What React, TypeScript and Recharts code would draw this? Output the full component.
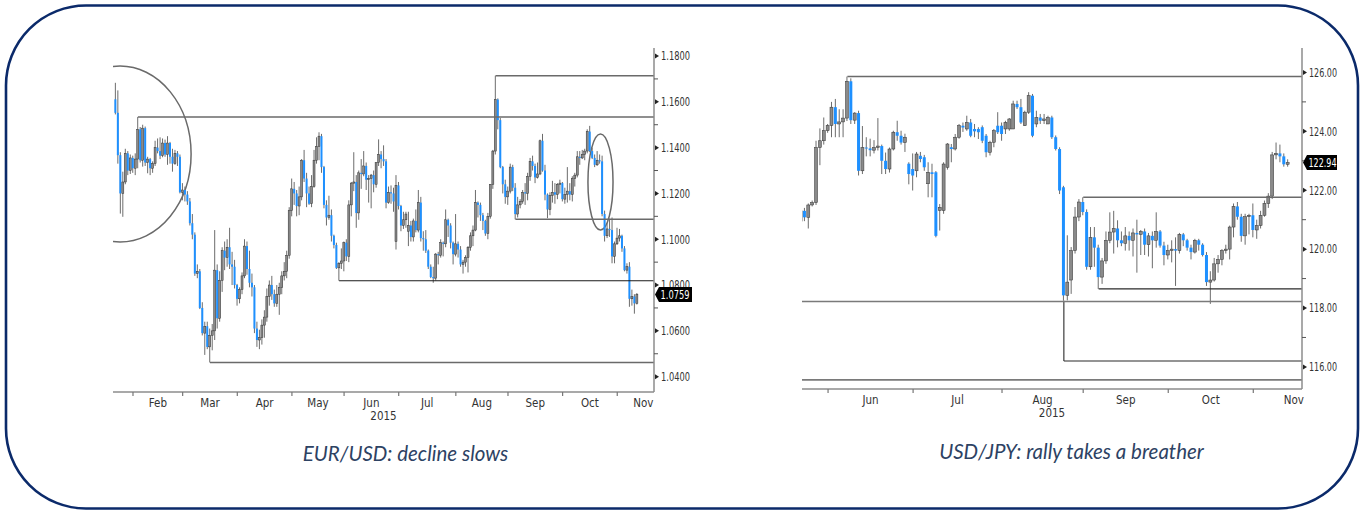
import React from 'react';
import { ComposedChart, Bar, XAxis, YAxis, ReferenceLine, ReferenceArea } from 'recharts';

type Ohlc = [number, number, number, number]; // open, high, low, close

// EUR/USD daily bars, grouped by the month band they sit in on the x axis
const eurJan: Ohlc[] = [
  [1.1611, 1.1683, 1.1545, 1.1552], [1.1552, 1.1650, 1.1330, 1.1367], [1.1367, 1.1380, 1.1112, 1.1200],
  [1.1200, 1.1295, 1.1098, 1.1250], [1.1250, 1.1395, 1.1240, 1.1375], [1.1375, 1.1385, 1.1280, 1.1300],
  [1.1300, 1.1370, 1.1285, 1.1355],
];
const eurFeb: Ohlc[] = [
  [1.1355, 1.1365, 1.1290, 1.1310], [1.1310, 1.1375, 1.1280, 1.1350], [1.1350, 1.1534, 1.1310, 1.1480],
  [1.1480, 1.1490, 1.1335, 1.1345], [1.1345, 1.1500, 1.1317, 1.1485], [1.1485, 1.1492, 1.1320, 1.1335],
  [1.1335, 1.1360, 1.1288, 1.1350], [1.1350, 1.1355, 1.1280, 1.1310], [1.1310, 1.1340, 1.1290, 1.1330],
  [1.1330, 1.1430, 1.1320, 1.1400], [1.1400, 1.1440, 1.1375, 1.1385], [1.1385, 1.1445, 1.1350, 1.1365],
  [1.1365, 1.1440, 1.1358, 1.1420], [1.1420, 1.1435, 1.1360, 1.1370], [1.1370, 1.1450, 1.1325, 1.1420],
  [1.1420, 1.1425, 1.1330, 1.1360], [1.1360, 1.1395, 1.1295, 1.1330], [1.1330, 1.1390, 1.1325, 1.1375],
  [1.1375, 1.1385, 1.1320, 1.1360], [1.1360, 1.1370, 1.1200, 1.1205],
];
const eurMar: Ohlc[] = [
  [1.1205, 1.1245, 1.1170, 1.1215], [1.1215, 1.1230, 1.1165, 1.1195], [1.1195, 1.1210, 1.1150, 1.1165],
  [1.1165, 1.1180, 1.1060, 1.1070], [1.1070, 1.1110, 1.1000, 1.1020], [1.1020, 1.1030, 1.0840, 1.0850],
  [1.0850, 1.0890, 1.0830, 1.0860], [1.0860, 1.0870, 1.0695, 1.0700], [1.0700, 1.0725, 1.0580, 1.0590],
  [1.0590, 1.0640, 1.0495, 1.0620], [1.0620, 1.0640, 1.0520, 1.0530], [1.0530, 1.0610, 1.0462, 1.0580],
  [1.0580, 1.0630, 1.0515, 1.0600], [1.0600, 1.1040, 1.0560, 1.0865], [1.0865, 1.0890, 1.0610, 1.0655],
  [1.0655, 1.0860, 1.0640, 1.0820], [1.0820, 1.0965, 1.0770, 1.0950], [1.0950, 1.0990, 1.0865, 1.0920],
  [1.0920, 1.1000, 1.0880, 1.0965], [1.0965, 1.1050, 1.0870, 1.0890], [1.0890, 1.0945, 1.0800, 1.0880],
  [1.0880, 1.0910, 1.0785, 1.0800],
];
const eurApr: Ohlc[] = [
  [1.0800, 1.0805, 1.0710, 1.0740], [1.0740, 1.0790, 1.0720, 1.0780], [1.0780, 1.0855, 1.0760, 1.0840],
  [1.0840, 1.1000, 1.0830, 1.0970], [1.0970, 1.0990, 1.0845, 1.0870], [1.0870, 1.0950, 1.0790, 1.0810],
  [1.0810, 1.0850, 1.0750, 1.0790], [1.0790, 1.0800, 1.0590, 1.0610], [1.0610, 1.0640, 1.0530, 1.0560],
  [1.0560, 1.0605, 1.0520, 1.0570], [1.0570, 1.0650, 1.0540, 1.0625], [1.0625, 1.0690, 1.0570, 1.0660],
  [1.0660, 1.0785, 1.0640, 1.0750], [1.0750, 1.0820, 1.0710, 1.0800], [1.0800, 1.0840, 1.0735, 1.0760],
  [1.0760, 1.0780, 1.0705, 1.0720], [1.0720, 1.0800, 1.0705, 1.0760], [1.0760, 1.0810, 1.0670, 1.0790],
  [1.0790, 1.0860, 1.0760, 1.0840], [1.0840, 1.0900, 1.0820, 1.0860], [1.0860, 1.0950, 1.0830, 1.0930],
  [1.0930, 1.1140, 1.0915, 1.1125],
];
const eurMay: Ohlc[] = [
  [1.1125, 1.1265, 1.1100, 1.1220], [1.1220, 1.1250, 1.1150, 1.1200], [1.1200, 1.1215, 1.1100, 1.1145],
  [1.1145, 1.1230, 1.1105, 1.1185], [1.1185, 1.1350, 1.1170, 1.1345], [1.1345, 1.1390, 1.1250, 1.1265],
  [1.1265, 1.1290, 1.1140, 1.1200], [1.1200, 1.1230, 1.1150, 1.1155], [1.1155, 1.1280, 1.1140, 1.1230],
  [1.1230, 1.1390, 1.1225, 1.1345], [1.1345, 1.1445, 1.1330, 1.1405], [1.1405, 1.1467, 1.1345, 1.1450],
  [1.1450, 1.1460, 1.1290, 1.1315], [1.1315, 1.1320, 1.1135, 1.1150], [1.1150, 1.1170, 1.1060, 1.1095],
  [1.1095, 1.1190, 1.1085, 1.1105], [1.1105, 1.1130, 1.0990, 1.1015], [1.1015, 1.1020, 1.0960, 1.0975],
  [1.0975, 1.0985, 1.0870, 1.0875], [1.0875, 1.0900, 1.0819, 1.0895], [1.0895, 1.0960, 1.0870, 1.0905],
];
const eurJun: Ohlc[] = [
  [1.0905, 1.0990, 1.0860, 1.0985], [1.0985, 1.1000, 1.0905, 1.0925], [1.0925, 1.1170, 1.0900, 1.1150],
  [1.1150, 1.1250, 1.1100, 1.1245], [1.1245, 1.1380, 1.1210, 1.1250], [1.1250, 1.1280, 1.1050, 1.1115],
  [1.1115, 1.1300, 1.1085, 1.1290], [1.1290, 1.1350, 1.1220, 1.1285], [1.1285, 1.1385, 1.1275, 1.1320],
  [1.1320, 1.1335, 1.1215, 1.1260], [1.1260, 1.1280, 1.1160, 1.1265], [1.1265, 1.1285, 1.1135, 1.1280],
  [1.1280, 1.1300, 1.1205, 1.1240], [1.1240, 1.1335, 1.1225, 1.1335], [1.1335, 1.1436, 1.1320, 1.1370],
  [1.1370, 1.1385, 1.1310, 1.1350], [1.1350, 1.1410, 1.1320, 1.1340], [1.1340, 1.1350, 1.1135, 1.1160],
  [1.1160, 1.1230, 1.1155, 1.1205], [1.1205, 1.1235, 1.1155, 1.1200], [1.1200, 1.1225, 1.1120, 1.1165],
  [1.0990, 1.1280, 1.0955, 1.1235],
];
const eurJul: Ohlc[] = [
  [1.1235, 1.1250, 1.1130, 1.1145], [1.1145, 1.1150, 1.1035, 1.1060], [1.1060, 1.1120, 1.1045, 1.1085],
  [1.1085, 1.1120, 1.1050, 1.1110], [1.1035, 1.1120, 1.0970, 1.1060], [1.1060, 1.1080, 1.0990, 1.1010],
  [1.1010, 1.1090, 1.0990, 1.1080], [1.1080, 1.1130, 1.1030, 1.1040], [1.1040, 1.1215, 1.1030, 1.1160],
  [1.1160, 1.1185, 1.0990, 1.1005], [1.1005, 1.1035, 1.0950, 1.1000], [1.1000, 1.1040, 1.0940, 1.0950],
  [1.0950, 1.0955, 1.0870, 1.0880], [1.0880, 1.0890, 1.0830, 1.0835], [1.0835, 1.0880, 1.0810, 1.0830],
  [1.0830, 1.0940, 1.0820, 1.0935], [1.0935, 1.0945, 1.0890, 1.0930], [1.0930, 1.1000, 1.0920, 1.0985],
  [1.0985, 1.0990, 1.0925, 1.0980], [1.0980, 1.1130, 1.0965, 1.1085], [1.1085, 1.1090, 1.1010, 1.1060],
  [1.1060, 1.1070, 1.0960, 1.0985], [1.0985, 1.0990, 1.0890, 1.0935],
];
const eurAug: Ohlc[] = [
  [1.0935, 1.1110, 1.0925, 1.0980], [1.0980, 1.0990, 1.0920, 1.0955], [1.0955, 1.0970, 1.0880, 1.0890],
  [1.0890, 1.0910, 1.0850, 1.0900], [1.0900, 1.0930, 1.0880, 1.0920], [1.0920, 1.0970, 1.0855, 1.0965],
  [1.0965, 1.1030, 1.0950, 1.1015], [1.1015, 1.1060, 1.0970, 1.1040], [1.1040, 1.1215, 1.1035, 1.1160],
  [1.1160, 1.1165, 1.1095, 1.1150], [1.1150, 1.1160, 1.1080, 1.1105], [1.1105, 1.1115, 1.1040, 1.1080],
  [1.1080, 1.1085, 1.1015, 1.1025], [1.1025, 1.1115, 1.1000, 1.1100], [1.1100, 1.1240, 1.1090, 1.1240],
  [1.1240, 1.1390, 1.1220, 1.1385], [1.1385, 1.1714, 1.1370, 1.1610], [1.1610, 1.1615, 1.1480, 1.1520],
  [1.1520, 1.1530, 1.1310, 1.1315], [1.1315, 1.1320, 1.1200, 1.1240], [1.1240, 1.1260, 1.1155, 1.1185],
];
const eurSep: Ohlc[] = [
  [1.1185, 1.1230, 1.1150, 1.1210], [1.1210, 1.1330, 1.1200, 1.1315], [1.1315, 1.1325, 1.1210, 1.1225],
  [1.1225, 1.1245, 1.1087, 1.1110], [1.1110, 1.1185, 1.1095, 1.1150], [1.1150, 1.1175, 1.1135, 1.1165],
  [1.1165, 1.1215, 1.1155, 1.1205], [1.1205, 1.1245, 1.1150, 1.1200], [1.1200, 1.1290, 1.1170, 1.1275],
  [1.1275, 1.1355, 1.1255, 1.1340], [1.1340, 1.1365, 1.1300, 1.1320], [1.1320, 1.1330, 1.1245, 1.1270],
  [1.1270, 1.1335, 1.1265, 1.1285], [1.1285, 1.1435, 1.1280, 1.1430], [1.1430, 1.1460, 1.1295, 1.1300],
  [1.1300, 1.1325, 1.1170, 1.1195], [1.1195, 1.1200, 1.1092, 1.1130], [1.1130, 1.1205, 1.1105, 1.1190],
  [1.1190, 1.1255, 1.1160, 1.1205], [1.1205, 1.1245, 1.1155, 1.1195], [1.1195, 1.1245, 1.1175, 1.1240],
  [1.1240, 1.1260, 1.1200, 1.1245],
];
const eurOct: Ohlc[] = [
  [1.1245, 1.1250, 1.1165, 1.1175], [1.1175, 1.1225, 1.1155, 1.1195], [1.1195, 1.1315, 1.1160, 1.1210],
  [1.1210, 1.1245, 1.1170, 1.1195], [1.1195, 1.1275, 1.1165, 1.1265], [1.1265, 1.1290, 1.1230, 1.1280],
  [1.1280, 1.1385, 1.1270, 1.1360], [1.1360, 1.1385, 1.1325, 1.1355], [1.1355, 1.1390, 1.1350, 1.1370],
  [1.1370, 1.1395, 1.1345, 1.1385], [1.1385, 1.1480, 1.1375, 1.1470], [1.1470, 1.1495, 1.1380, 1.1385],
  [1.1385, 1.1400, 1.1350, 1.1355], [1.1355, 1.1370, 1.1315, 1.1325], [1.1325, 1.1385, 1.1320, 1.1345],
  [1.1345, 1.1370, 1.1330, 1.1340], [1.1340, 1.1365, 1.1100, 1.1110], [1.1110, 1.1125, 1.0990, 1.1015],
  [1.1015, 1.1070, 1.1005, 1.1045], [1.1045, 1.1090, 1.1010, 1.1040], [1.1040, 1.1095, 1.0895, 1.0925],
  [1.0925, 1.0990, 1.0895, 1.0980],
];
const eurNov: Ohlc[] = [
  [1.0980, 1.1050, 1.0975, 1.1005], [1.1005, 1.1045, 1.0990, 1.1015], [1.1015, 1.1020, 1.0945, 1.0960],
  [1.0960, 1.0970, 1.0860, 1.0865], [1.0865, 1.0895, 1.0850, 1.0880], [1.0880, 1.0900, 1.0705, 1.0740],
  [1.0740, 1.0780, 1.0710, 1.0750], [1.0750, 1.0760, 1.0675, 1.0720], [1.0720, 1.0765, 1.0715, 1.0759],
];

// USD/JPY daily bars
const jpyMay: Ohlc[] = [
  [120.95, 121.53, 120.63, 121.30], [121.30, 121.40, 120.95, 121.08], [121.08, 121.55, 120.70, 121.50],
  [121.50, 121.65, 121.45, 121.58], [121.58, 123.68, 121.50, 123.45], [123.45, 124.10, 122.85, 123.68],
  [123.68, 124.47, 123.55, 124.02],
];
const jpyJun: Ohlc[] = [
  [124.02, 124.25, 123.95, 124.20], [124.20, 125.00, 123.80, 124.82], [124.82, 125.10, 123.80, 124.25],
  [124.25, 124.75, 123.80, 124.32], [124.32, 124.75, 123.80, 124.45], [124.45, 125.86, 124.35, 125.70],
  [125.70, 125.80, 124.25, 124.38], [124.38, 124.65, 124.25, 124.62], [124.62, 124.70, 122.50, 122.66],
  [122.66, 124.18, 122.55, 123.45], [123.45, 123.80, 123.15, 123.42], [123.42, 123.75, 123.15, 123.36],
  [123.36, 123.70, 123.25, 123.45], [123.45, 124.45, 123.35, 123.50], [123.50, 123.55, 122.55, 123.00],
  [123.00, 123.28, 122.55, 122.72], [122.72, 123.45, 122.60, 123.40], [123.40, 124.02, 123.35, 123.97],
  [123.97, 124.36, 123.68, 123.85], [123.85, 124.02, 123.55, 123.62], [123.62, 123.92, 123.30, 123.80],
  [122.90, 122.95, 122.20, 122.55],
];
const jpyJul: Ohlc[] = [
  [122.72, 123.25, 121.99, 122.50], [122.66, 123.30, 122.44, 123.23], [123.17, 123.30, 122.95, 123.06],
  [123.12, 123.20, 122.66, 122.78], [122.22, 122.95, 121.76, 122.61], [122.61, 122.90, 121.76, 122.55],
  [122.61, 122.65, 120.40, 120.45], [121.31, 121.53, 120.63, 121.42], [121.31, 122.95, 121.20, 122.89],
  [122.78, 123.60, 122.70, 123.57], [123.46, 123.57, 122.95, 123.40], [123.40, 123.91, 123.35, 123.80],
  [123.80, 124.25, 123.75, 124.19], [124.19, 124.30, 123.98, 124.13], [124.08, 124.53, 124.02, 124.30],
  [124.30, 124.42, 123.80, 123.85], [124.08, 124.25, 123.80, 124.00], [124.08, 124.14, 123.74, 123.97],
  [124.14, 124.20, 123.60, 123.68], [123.85, 123.91, 123.12, 123.29], [123.29, 123.68, 123.18, 123.63],
  [123.63, 124.08, 123.46, 124.02], [124.19, 124.65, 123.91, 123.97],
];
const jpyAug: Ohlc[] = [
  [124.19, 124.30, 123.68, 123.91], [124.08, 124.36, 123.91, 124.30], [124.08, 124.45, 124.02, 124.42],
  [124.08, 125.04, 124.08, 124.93], [124.93, 125.04, 124.76, 124.82], [124.82, 125.10, 124.25, 124.30],
  [124.19, 124.70, 124.19, 124.65], [124.65, 125.33, 124.59, 125.21], [125.21, 125.27, 123.80, 123.85],
  [124.25, 124.70, 124.14, 124.47], [124.47, 124.59, 124.25, 124.36], [124.36, 124.59, 124.25, 124.42],
  [124.25, 124.53, 124.25, 124.47], [124.47, 124.53, 123.74, 123.80], [123.80, 123.86, 123.35, 123.40],
  [123.40, 123.46, 121.87, 121.99], [122.10, 122.15, 118.25, 118.43], [118.43, 120.47, 118.26, 118.88],
  [118.95, 120.07, 118.48, 119.95], [119.95, 121.43, 119.85, 121.09], [121.09, 121.70, 120.95, 121.60],
];
const jpySep: Ohlc[] = [
  [121.60, 121.76, 121.15, 121.26], [121.26, 121.35, 119.30, 119.40], [119.40, 120.75, 119.30, 120.40],
  [120.40, 120.75, 119.40, 120.05], [120.05, 120.15, 118.65, 119.05], [119.05, 119.70, 118.82, 119.60],
  [119.60, 120.60, 119.50, 120.30], [120.30, 121.25, 120.20, 120.58], [120.58, 121.30, 119.85, 120.70],
  [120.70, 120.98, 120.06, 120.30], [120.30, 120.60, 120.10, 120.20], [120.20, 120.75, 119.95, 120.45],
  [120.45, 120.60, 119.95, 120.30], [120.30, 120.70, 119.75, 120.55], [120.55, 121.00, 119.20, 120.50],
  [120.50, 120.65, 119.80, 120.60], [120.60, 120.70, 119.80, 120.15], [120.15, 120.55, 119.75, 120.45],
  [120.45, 120.60, 119.35, 120.30], [120.30, 121.25, 120.05, 120.60], [120.60, 120.65, 120.05, 120.12],
  [120.12, 120.25, 119.45, 119.80],
];
const jpyOct: Ohlc[] = [
  [119.80, 120.15, 119.65, 119.95], [119.95, 120.30, 119.55, 120.00], [120.00, 120.40, 118.75, 119.95],
  [119.95, 120.55, 119.85, 120.50], [120.50, 120.55, 120.10, 120.30], [120.30, 120.35, 119.95, 120.05],
  [120.05, 120.15, 119.65, 119.90], [119.90, 120.35, 119.85, 120.30], [120.30, 120.35, 119.95, 120.15],
  [120.15, 120.20, 119.75, 119.80], [119.80, 119.90, 118.75, 118.88], [118.88, 119.25, 118.14, 118.95],
  [118.95, 119.70, 118.90, 119.50], [119.50, 119.80, 119.20, 119.65], [119.65, 120.00, 119.45, 119.95],
  [119.95, 120.15, 119.85, 120.00], [120.00, 120.80, 119.65, 120.75], [120.75, 121.55, 120.40, 121.45],
  [121.45, 121.60, 121.00, 121.10], [121.10, 121.20, 120.25, 120.45], [120.45, 121.20, 120.15, 121.10],
  [121.10, 121.20, 120.50, 121.15],
];
const jpyNov: Ohlc[] = [
  [121.15, 121.55, 120.40, 120.65], [120.65, 121.00, 120.35, 120.80], [120.80, 121.30, 120.70, 121.15],
  [121.15, 121.65, 121.10, 121.55], [121.55, 121.90, 121.40, 121.80], [121.80, 123.30, 121.70, 123.20],
  [123.20, 123.62, 123.05, 123.25], [123.25, 123.55, 122.95, 123.15], [123.15, 123.25, 122.80, 122.88],
  [122.88, 123.05, 122.80, 122.94],
];

const eurStart = '2015-01-22';
const jpyStart = '2015-05-21';
const monthNames = ['Jan', 'Feb', 'Mar', 'Apr', 'May', 'Jun', 'Jul', 'Aug', 'Sep', 'Oct', 'Nov', 'Dec'];

const eurTicks = [1.04, 1.05, 1.06, 1.07, 1.08, 1.09, 1.1, 1.11, 1.12, 1.13, 1.14, 1.15, 1.16, 1.17, 1.18];
const jpyTicks = [116, 117, 118, 119, 120, 121, 122, 123, 124, 125, 126];

// drawn levels: [first bar index, price]
const eurLevels: [number, number][] = [[9, 1.1534], [153, 1.1714], [161, 1.1087], [90, 1.0819], [38, 1.0462]];
const jpyLevels: [number, number][] = [[12, 125.86], [73, 121.76], [77, 118.65], [68, 116.2]];
const jpyFullLevels = [118.22, 115.56];

const AXIS_FONT = "'Liberation Sans Narrow', 'DejaVu Sans Condensed', 'Arial Narrow', sans-serif";
const UP_FILL = '#8a8a8a';
const UP_EDGE = '#333333';
const DOWN_FILL = '#1e90ff';
const WICK = '#6c6c6c';
const AXIS_GREY = '#8c8c8c';

const toRows = (rows: Ohlc[]) => rows.map(([o, h, l, c], i) => ({ i, o, h, l, c }));
const eurData = toRows([...eurJan, ...eurFeb, ...eurMar, ...eurApr, ...eurMay, ...eurJun, ...eurJul, ...eurAug, ...eurSep, ...eurOct, ...eurNov]);
const jpyData = toRows([...jpyMay, ...jpyJun, ...jpyJul, ...jpyAug, ...jpySep, ...jpyOct, ...jpyNov]);

function tradingDays(start: string, count: number) {
  const out: Date[] = [];
  const d = new Date(start + 'T00:00:00Z');
  while (out.length < count) {
    const wd = d.getUTCDay();
    if (wd !== 0 && wd !== 6) out.push(new Date(d.getTime()));
    d.setUTCDate(d.getUTCDate() + 1);
  }
  return out;
}

// month boundaries (tick marks) and month centres (labels), in bar-index units
function monthMarks(start: string, count: number, maxX: number) {
  const days = tradingDays(start, count + 30);
  const starts: number[] = [];
  for (let i = 1; i < days.length; i++) {
    if (days[i].getUTCMonth() !== days[i - 1].getUTCMonth()) starts.push(i);
  }
  const labels = new Map<number, string>();
  for (let k = 0; k < starts.length - 1; k++) {
    const mid = (starts[k] + starts[k + 1]) / 2;
    if (mid <= maxX) labels.set(mid, monthNames[days[starts[k]].getUTCMonth()]);
  }
  const ticks = [...starts.filter((s) => s <= maxX), ...labels.keys()].sort((a, b) => a - b);
  return { ticks, labels };
}

const EUR_X: [number, number] = [-1.05, 216.8];
const EUR_Y: [number, number] = [1.0333, 1.1835];
const JPY_X: [number, number] = [0.26, 129.6];
const JPY_Y: [number, number] = [115.25, 126.83];

const eurMarks = monthMarks(eurStart, eurData.length, EUR_X[1]);
const jpyMarks = monthMarks(jpyStart, jpyData.length, JPY_X[1]);

const makeCandle = (bodyWidth: number) => (props: any) => {
  const { x, y, width, height, payload } = props;
  if (payload == null || !isFinite(y) || !isFinite(height)) return <g />;
  const { o, h, l, c } = payload;
  const k = height / (h - l || 1);
  const yo = y + (h - o) * k;
  const yc = y + (h - c) * k;
  const cx = x + width / 2;
  const up = c >= o;
  const top = Math.min(yo, yc);
  const bh = Math.max(Math.abs(yo - yc), 1);
  return (
    <g>
      <line x1={cx} x2={cx} y1={y} y2={y + height} stroke={WICK} strokeWidth={1} />
      <rect
        x={cx - bodyWidth / 2}
        y={top}
        width={bodyWidth}
        height={bh}
        fill={up ? UP_FILL : DOWN_FILL}
        stroke={up ? UP_EDGE : 'none'}
        strokeWidth={0.5}
      />
    </g>
  );
};

const ellipseShape = (p: any) => (
  <ellipse
    cx={p.x + p.width / 2}
    cy={p.y + p.height / 2}
    rx={Math.abs(p.width) / 2}
    ry={Math.abs(p.height) / 2}
    fill="none"
    stroke="#6a6a6a"
    strokeWidth={1.5}
    clipPath={p.clipPath}
  />
);

function MonthTick(props: any) {
  const { x, y, payload, labels } = props;
  const label = labels.get(payload.value);
  if (label) {
    return (
      <text x={x} y={y + 14.5} textAnchor="middle" fontSize={11.5} fill="#333" fontFamily={AXIS_FONT}>
        {label}
      </text>
    );
  }
  return <line x1={x} x2={x} y1={y} y2={y + 4} stroke="#777" strokeWidth={1.2} />;
}

function PriceTick(props: any) {
  const { x, y, payload, last, step, digits, tagWidth, textWidth } = props;
  const v = payload.value;
  if (v === last) {
    const h = 7.5;
    return (
      <g>
        <polygon
          points={`${x + 1},${y} ${x + 5},${y - h} ${x + 5 + tagWidth},${y - h} ${x + 5 + tagWidth},${y + h} ${x + 5},${y + h}`}
          fill="#000"
        />
        <text
          x={x + 6.5}
          y={y + 4.3}
          fontSize={12}
          fill="#fff"
          fontFamily={AXIS_FONT}
          textLength={textWidth}
          lengthAdjust="spacingAndGlyphs"
        >
          {v.toFixed(digits)}
        </text>
      </g>
    );
  }
  const major = Math.round(v * step) % 2 === 0;
  if (!major) return <line x1={x} x2={x + 4} y1={y} y2={y} stroke="#555" strokeWidth={1} />;
  return (
    <g>
      <polygon points={`${x + 1},${y - 2.5} ${x + 5},${y} ${x + 1},${y + 2.5}`} fill="#222" />
      <text
        x={x + 7}
        y={y + 4.3}
        fontSize={12}
        fill="#333"
        fontFamily={AXIS_FONT}
        textLength={textWidth}
        lengthAdjust="spacingAndGlyphs"
      >
        {v.toFixed(digits)}
      </text>
    </g>
  );
}

function EurChart() {
  const last = eurData[eurData.length - 1].c;
  return (
    <ComposedChart width={760} height={440} data={eurData} margin={{ top: 48, right: 46, bottom: 18, left: 113 }}>
      <XAxis
        dataKey="i"
        type="number"
        domain={EUR_X}
        allowDataOverflow
        ticks={eurMarks.ticks}
        interval={0}
        tickSize={0}
        tickMargin={0}
        tickLine={false}
        height={30}
        axisLine={{ stroke: AXIS_GREY, strokeWidth: 1.5 }}
        tick={(p: any) => <MonthTick {...p} labels={eurMarks.labels} />}
        label={{ value: '2015', position: 'insideBottom', offset: 2, fontSize: 11.5, fill: '#333', fontFamily: AXIS_FONT }}
      />
      <YAxis
        orientation="right"
        type="number"
        domain={EUR_Y}
        allowDataOverflow
        ticks={[...eurTicks, last]}
        interval={0}
        tickSize={0}
        tickMargin={0}
        tickLine={false}
        width={60}
        axisLine={{ stroke: AXIS_GREY, strokeWidth: 1.5 }}
        tick={(p: any) => <PriceTick {...p} last={last} step={100} digits={4} tagWidth={33} textWidth={29} />}
      />
      <Bar dataKey={(d: any) => [d.l, d.h]} barSize={2} shape={makeCandle(2)} isAnimationActive={false} />
      {eurLevels.map(([from, v], k) => (
        <ReferenceLine
          key={`lv${k}`}
          segment={[{ x: from, y: v }, { x: EUR_X[1], y: v }]}
          stroke={k === 3 ? '#1a1a1a' : '#6a6a6a'}
          strokeWidth={k === 3 ? 1.1 : 1.6}
          ifOverflow="hidden"
        />
      ))}
      <ReferenceArea x1={-26.8} x2={30.4} y1={1.0988} y2={1.1756} ifOverflow="hidden" shape={ellipseShape} />
      <ReferenceArea x1={190.2} x2={200.3} y1={1.104} y2={1.1459} ifOverflow="hidden" shape={ellipseShape} />
    </ComposedChart>
  );
}

function JpyChart() {
  const last = jpyData[jpyData.length - 1].c;
  return (
    <ComposedChart width={620} height={440} data={jpyData} margin={{ top: 48, right: 3, bottom: 21, left: 62 }}>
      <XAxis
        dataKey="i"
        type="number"
        domain={JPY_X}
        allowDataOverflow
        ticks={jpyMarks.ticks}
        interval={0}
        tickSize={0}
        tickMargin={0}
        tickLine={false}
        height={30}
        axisLine={{ stroke: AXIS_GREY, strokeWidth: 1.5 }}
        tick={(p: any) => <MonthTick {...p} labels={jpyMarks.labels} />}
        label={{ value: '2015', position: 'insideBottom', offset: 2, fontSize: 11.5, fill: '#333', fontFamily: AXIS_FONT }}
      />
      <YAxis
        orientation="right"
        type="number"
        domain={JPY_Y}
        allowDataOverflow
        ticks={[...jpyTicks, last]}
        interval={0}
        tickSize={0}
        tickMargin={0}
        tickLine={false}
        width={55}
        axisLine={{ stroke: AXIS_GREY, strokeWidth: 1.5 }}
        tick={(p: any) => <PriceTick {...p} last={last} step={1} digits={2} tagWidth={30} textWidth={28} />}
      />
      <Bar dataKey={(d: any) => [d.l, d.h]} barSize={3} shape={makeCandle(3)} isAnimationActive={false} />
      {jpyLevels.map(([from, v], k) => (
        <ReferenceLine
          key={`lv${k}`}
          segment={[{ x: from, y: v }, { x: JPY_X[1], y: v }]}
          stroke={k >= 2 ? '#2a2a2a' : '#6a6a6a'}
          strokeWidth={k >= 2 ? 1.1 : 1.6}
          ifOverflow="hidden"
        />
      ))}
      <ReferenceLine
        segment={[{ x: 68, y: 118.25 }, { x: 68, y: 116.2 }]}
        stroke="#2a2a2a"
        strokeWidth={1.1}
        ifOverflow="hidden"
      />
      {jpyFullLevels.map((v) => (
        <ReferenceLine key={`fl${v}`} y={v} stroke="#7a7a7a" strokeWidth={1.6} ifOverflow="hidden" />
      ))}
    </ComposedChart>
  );
}

export default function App() {
  return (
    <div style={{ position: 'relative', width: 1360, height: 515, background: '#fff', overflow: 'hidden' }}>
      <style>{'body{margin:0;}'}</style>
      <div style={{ position: 'absolute', left: 0, top: 0 }}>
        <EurChart />
      </div>
      <div style={{ position: 'absolute', left: 740, top: 0 }}>
        <JpyChart />
      </div>
      <svg width={1360} height={515} style={{ position: 'absolute', left: 0, top: 0, pointerEvents: 'none' }}>
        <rect x={6} y={5.5} width={1352} height={503} rx={80} ry={80} fill="none" stroke="#0b2a6a" strokeWidth={2.6} />
        <text x={405.5} y={460.5} textAnchor="middle" fontStyle="italic" fontSize={20.5} fill="#2d4263" fontFamily="Lato, 'Open Sans', sans-serif">
          EUR/USD: decline slows
        </text>
        <text x={1071.5} y={459} textAnchor="middle" fontStyle="italic" fontSize={20.5} fill="#2d4263" fontFamily="Lato, 'Open Sans', sans-serif">
          USD/JPY: rally takes a breather
        </text>
      </svg>
    </div>
  );
}
